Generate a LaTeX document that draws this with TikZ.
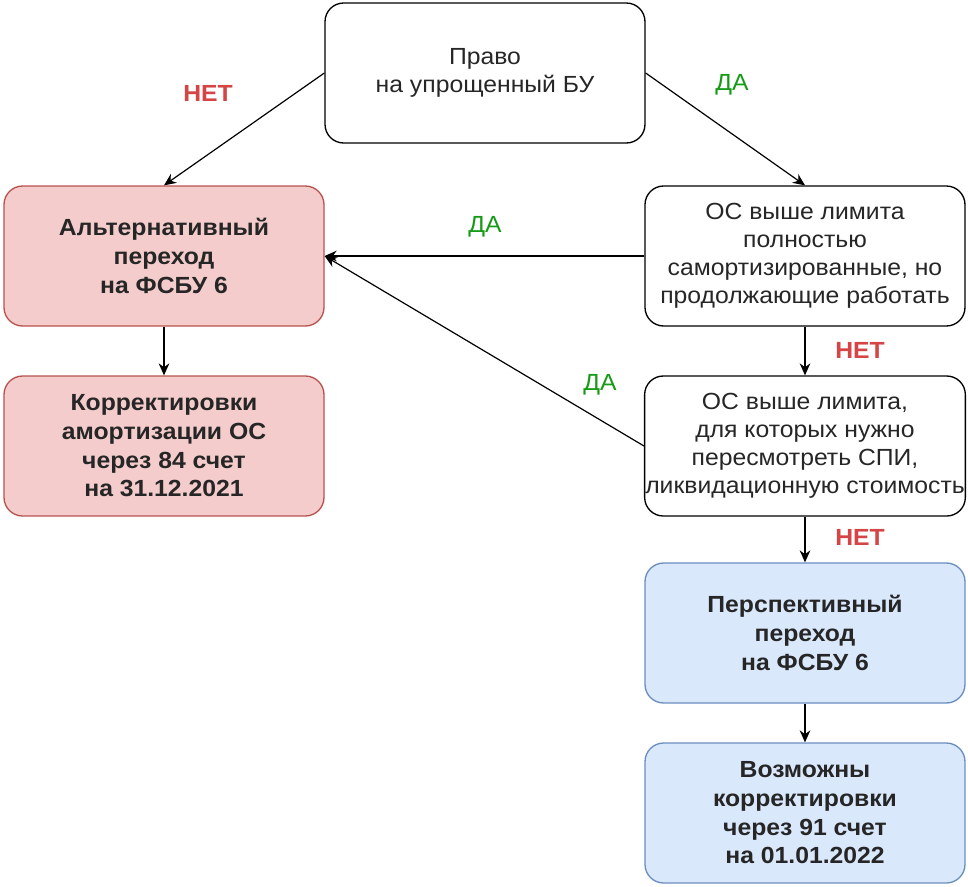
\documentclass[tikz,border=0pt]{standalone}
\usepackage{fontspec}
\setmainfont[FakeStretch=1.06]{Liberation Sans}
\usetikzlibrary{arrows.meta}
\definecolor{pinkfill}{HTML}{F4CCCC}
\definecolor{pinkline}{HTML}{B85450}
\definecolor{bluefill}{HTML}{DAE8FC}
\definecolor{blueline}{HTML}{6C8EBF}
\definecolor{netred}{HTML}{D64545}
\definecolor{dagreen}{HTML}{169B16}
\definecolor{textgray}{HTML}{262626}
\begin{document}
\begin{tikzpicture}[x=0.75pt, y=-0.75pt,
  box/.style={draw, line width=1pt, rounded corners=14pt, fill=white,
    minimum width=240pt, minimum height=105pt, inner xsep=0.5pt, align=center,
    text=textgray, font=\fontsize{17.5}{21}\selectfont},
  pinkbox/.style={box, fill=pinkfill, draw=pinkline, font=\fontsize{17.5}{21.5}\selectfont\bfseries},
  bluebox/.style={box, fill=bluefill, draw=blueline, font=\fontsize{17.5}{21.5}\selectfont\bfseries},
  no/.style={text=netred, font=\fontsize{17.5}{21}\selectfont\bfseries},
  yes/.style={text=dagreen, font=\fontsize{17.5}{21}\selectfont},
  arr/.style={-{Stealth[length=9pt, width=8pt]}, line width=0.9pt}]
% page
\useasboundingbox (0,0) rectangle (968,886);
\fill[white] (0,0) rectangle (968,886);

% boxes
\node[box] (pravo) at (485,73) {Право\\на упрощенный БУ};
\node[pinkbox] (alt) at (164,256) {Альтернативный\\переход\\на ФСБУ 6};
\node[pinkbox] (korr) at (164,446) {Корректировки\\амортизации ОС\\через 84 счет\\на 31.12.2021};
\node[box] (full) at (805,256) {ОС выше лимита\\полностью\\самортизированные, но\\продолжающие работать};
\node[box] (spi) at (805,446) {ОС выше лимита,\\для которых нужно\\пересмотреть СПИ,\\ликвидационную стоимость};
\node[bluebox] (persp) at (805,633) {Перспективный\\переход\\на ФСБУ 6};
\node[bluebox] (vozm) at (805,813) {Возможны\\корректировки\\через 91 счет\\на 01.01.2022};

% labels
\node[no] (net1) at (208,93) {НЕТ};
\node[yes] (da1) at (732,85) {ДА};
\node[yes] (da2) at (485,227) {ДА};
\node[yes] (da3) at (600,385) {ДА};
\node[no] (net2) at (860,350) {НЕТ};
\node[no] (net3) at (860,537) {НЕТ};

% arrows
\draw[arr] (pravo.west) -- (alt.north);
\draw[arr] (pravo.east) -- (full.north);
\draw[arr] (full.west) -- (alt.east);
\draw[arr] (spi.west) -- (alt.east);
\draw[arr] (alt.south) -- (korr.north);
\draw[arr] (full.south) -- (spi.north);
\draw[arr] (spi.south) -- (persp.north);
\draw[arr] (persp.south) -- (vozm.north);
\end{tikzpicture}
\end{document}
